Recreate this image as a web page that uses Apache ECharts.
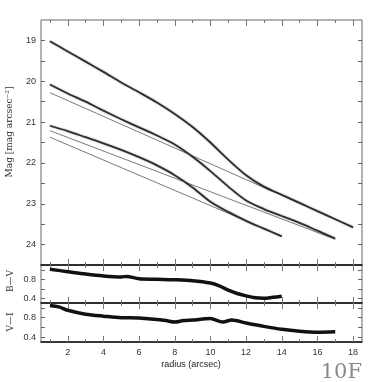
<!DOCTYPE html>
<html>
<head>
<meta charset="utf-8">
<script src="https://cdn.jsdelivr.net/npm/echarts@6/dist/echarts.min.js"></script>
<style>
  html, body { margin: 0; padding: 0; background: #fff; }
  #chart { width: 382px; height: 382px; }
</style>
</head>
<body>
<div id="chart"></div>
<script>
// surface brightness profiles (mag arcsec^-2) vs radius (arcsec)
const radiusTop = [1,2,3,4,5,6,7,8,9,10,11,12,13,14,15,16,17,18];
const magTop = [19.02,19.27,19.52,19.77,20.03,20.27,20.52,20.8,21.12,21.5,21.92,22.3,22.58,22.78,22.98,23.18,23.38,23.58];
const radiusMid = [1,2,3,4,5,6,7,8,9,10,11,12,13,14,15,16,17];
const magMid = [20.08,20.3,20.5,20.72,20.93,21.13,21.33,21.55,21.85,22.2,22.58,22.92,23.13,23.3,23.47,23.66,23.85];
const radiusBot = [1,2,3,4,5,6,7,8,9,10,11,12,13,14];
const magBot = [21.09,21.22,21.37,21.52,21.68,21.86,22.06,22.3,22.6,22.95,23.2,23.42,23.61,23.8];

// exponential disk fits: start/end radius and magnitude
const diskR = [[1,18],[1,17],[1,14]];
const diskMag = [[20.28,23.57],[21.21,23.87],[21.37,23.79]];

// colour profiles
const bvR = [1,2,3,4,5,5.3,6,7,8,9,10,10.5,11,11.5,12,12.5,13,13.5,14];
const bv = [1.01,0.96,0.91,0.87,0.85,0.86,0.81,0.8,0.79,0.77,0.72,0.66,0.57,0.5,0.45,0.41,0.4,0.42,0.44];
const viR = [1,1.5,2,3,4,5,5.5,6,7,7.5,8,8.5,9,10,10.7,11.2,12,13,14,15,16,17];
const vi = [1.05,1.02,0.95,0.87,0.83,0.8,0.8,0.79,0.76,0.74,0.71,0.74,0.75,0.78,0.71,0.75,0.69,0.62,0.56,0.52,0.5,0.51];

const evenTicks = [2,4,6,8,10,12,14,16,18];
const oddTicks = [1,3,5,7,9,11,13,15,17];

const zip = (a, b) => a.map((v, i) => [v, b[i]]);

const tickFont = { fontFamily: 'Liberation Sans', fontSize: 9, color: '#333' };

// four x axes per grid: long ticks at even values, short at odd, top and bottom
function xAxesFor(gi, labels, bottomLine) {
  const base = { gridIndex: gi, type: 'value', min: 0.5, max: 18.5, splitLine: { show: false } };
  return [
    Object.assign({}, base, {
      position: 'bottom',
      axisLine: { show: true, lineStyle: { color: bottomLine, width: 1.5 } },
      axisTick: { show: true, inside: true, length: 6, customValues: evenTicks, lineStyle: { color: '#777' } },
      axisLabel: { show: labels, customValues: evenTicks, margin: 6, ...tickFont }
    }),
    Object.assign({}, base, {
      position: 'bottom',
      axisLine: { show: false },
      axisTick: { show: true, inside: true, length: 3, customValues: oddTicks, lineStyle: { color: '#777' } },
      axisLabel: { show: false }
    }),
    Object.assign({}, base, {
      position: 'top',
      axisLine: { show: false },
      axisTick: { show: true, inside: true, length: 6, customValues: evenTicks, lineStyle: { color: '#777' } },
      axisLabel: { show: false }
    }),
    Object.assign({}, base, {
      position: 'top',
      axisLine: { show: false },
      axisTick: { show: true, inside: true, length: 3, customValues: oddTicks, lineStyle: { color: '#777' } },
      axisLabel: { show: false }
    })
  ];
}

function yPair(gi, opts, ticks, labels) {
  const base = Object.assign({ gridIndex: gi, type: 'value', splitLine: { show: false }, axisLine: { show: false } }, opts);
  return [
    Object.assign({}, base, {
      position: 'left',
      axisTick: { show: true, inside: true, length: 4, customValues: ticks, lineStyle: { color: '#666' } },
      axisLabel: { show: true, customValues: labels, margin: 5, ...tickFont }
    }),
    Object.assign({}, base, {
      position: 'right',
      axisTick: { show: true, inside: true, length: 4, customValues: ticks, lineStyle: { color: '#666' } },
      axisLabel: { show: false }
    })
  ];
}

const magTicks = [19,19.5,20,20.5,21,21.5,22,22.5,23,23.5,24];
const magLabels = [19,20,21,22,23,24];
const colTicks = [0.4,0.6,0.8,1.0];
const colLabels = [0.4,0.8];

const xAxis = [].concat(xAxesFor(0, false, '#111'), xAxesFor(1, false, '#111'), xAxesFor(2, true, '#111'));
const yAxis = [].concat(
  yPair(0, { min: 18.5, max: 24.5, inverse: true }, magTicks, magLabels),
  yPair(1, { min: 0.3, max: 1.1 }, colTicks, colLabels),
  yPair(2, { min: 0.3, max: 1.1 }, colTicks, colLabels)
);

const thick = { color: '#2e2e2e', width: 1.8, shadowColor: 'rgba(0,0,0,0.35)', shadowBlur: 2 };
const thin = { color: '#6a6a6a', width: 0.9 };
const colour = { color: '#111', width: 3.5 };

const series = [];
[[radiusTop, magTop], [radiusMid, magMid], [radiusBot, magBot]].forEach(function (p) {
  series.push({ type: 'line', xAxisIndex: 0, yAxisIndex: 0, data: zip(p[0], p[1]), showSymbol: false, smooth: 0.3, lineStyle: thick, z: 3 });
});
diskR.forEach(function (r, i) {
  series.push({ type: 'line', xAxisIndex: 0, yAxisIndex: 0, data: zip(r, diskMag[i]), showSymbol: false, lineStyle: thin, z: 2 });
});
series.push({ type: 'line', xAxisIndex: 4, yAxisIndex: 2, data: zip(bvR, bv), showSymbol: false, smooth: 0.3, lineStyle: colour });
series.push({ type: 'line', xAxisIndex: 8, yAxisIndex: 4, data: zip(viR, vi), showSymbol: false, smooth: 0.3, lineStyle: colour });

const chart = echarts.init(document.getElementById('chart'), null, { renderer: 'canvas' });
chart.setOption({
  animation: false,
  backgroundColor: '#fff',
  grid: [
    { left: 41, right: 20, top: 20, height: 245, show: true, borderColor: '#666', borderWidth: 1 },
    { left: 41, right: 20, top: 265, height: 38, show: true, borderColor: '#666', borderWidth: 1 },
    { left: 41, right: 20, top: 303, height: 39, show: true, borderColor: '#666', borderWidth: 1 }
  ],
  xAxis: xAxis,
  yAxis: yAxis,
  series: series,
  graphic: [
    { type: 'text', left: 'center', top: 360, style: { text: 'radius (arcsec)', font: '9px Liberation Sans', fill: '#222' } },
    { type: 'text', x: 5, y: 132, rotation: Math.PI / 2, style: { text: 'Mag [mag arcsec\u207B\u00B2]', font: '9px DejaVu Serif', fill: '#333', align: 'center', verticalAlign: 'top' } },
    { type: 'text', x: 6, y: 281, rotation: Math.PI / 2, style: { text: 'B\u2014V', font: '9px DejaVu Serif', fill: '#333', align: 'center', verticalAlign: 'top' } },
    { type: 'text', x: 6, y: 322, rotation: Math.PI / 2, style: { text: 'V\u2014I', font: '9px DejaVu Serif', fill: '#333', align: 'center', verticalAlign: 'top' } },
    { type: 'text', right: 20, top: 362, style: { text: '10F', font: '21px DejaVu Serif', fill: '#888' } }
  ]
});
</script>
</body>
</html>
